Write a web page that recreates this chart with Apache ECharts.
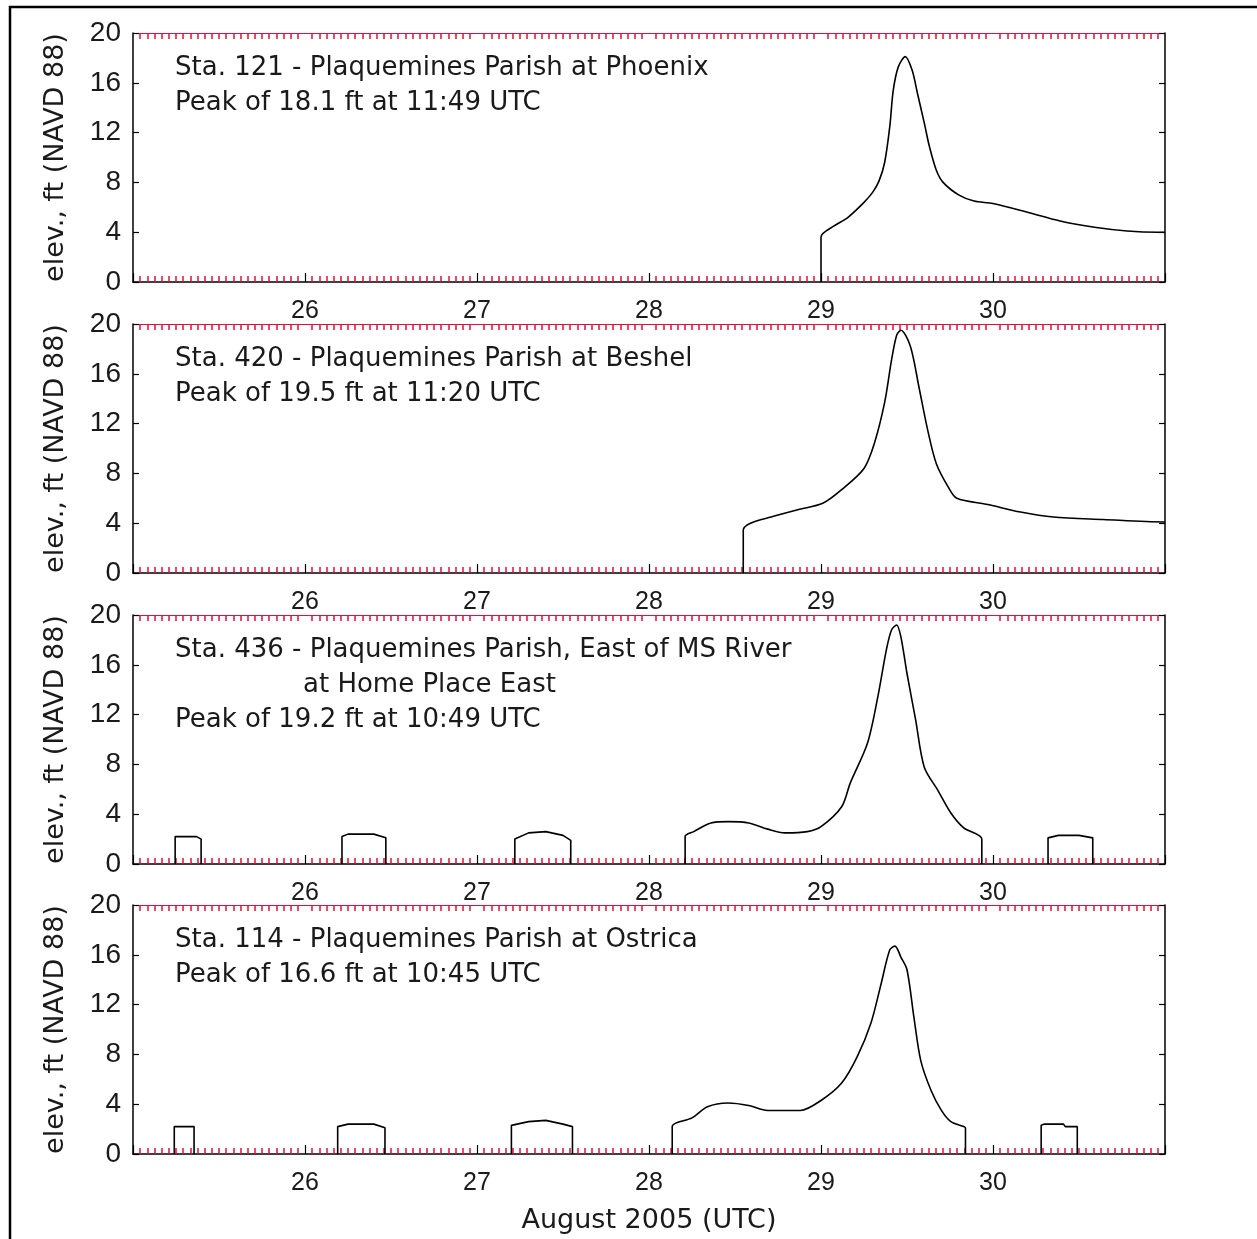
<!DOCTYPE html>
<html>
<head>
<meta charset="utf-8">
<script src="https://cdn.jsdelivr.net/npm/echarts@6/dist/echarts.min.js"></script>
<style>
html,body{margin:0;padding:0;background:#fff;}
#chart{width:1257px;height:1239px;}
</style>
</head>
<body>
<div id="chart"></div>
<script>
// ---- data ----
const xTickLabels = [26, 27, 28, 29, 30];
const yTicks = [0, 4, 8, 12, 16, 20];

const sta121Text = ['Sta. 121 - Plaquemines Parish at Phoenix', 'Peak of 18.1 ft at 11:49 UTC'];
const sta420Text = ['Sta. 420 - Plaquemines Parish at Beshel', 'Peak of 19.5 ft at 11:20 UTC'];
const sta436Text = ['Sta. 436 - Plaquemines Parish, East of MS River', 'at Home Place East', 'Peak of 19.2 ft at 10:49 UTC'];
const sta114Text = ['Sta. 114 - Plaquemines Parish at Ostrica', 'Peak of 16.6 ft at 10:45 UTC'];

// [day of August 2005 (UTC), elevation ft]
const sta121 = [
  [[29.0,0],[29.0,3.6],[29.076,4.5],[29.157,5.2],[29.25,6.4],[29.30,7.2],[29.337,8.1],[29.37,9.6],[29.40,12.5],[29.42,15.4],[29.45,17.3],[29.49,18.1],[29.53,17.0],[29.56,15.2],[29.60,12.8],[29.63,10.9],[29.67,9.0],[29.71,8.0],[29.80,7.0],[29.89,6.5],[30.0,6.3],[30.20,5.6],[30.39,4.9],[30.59,4.4],[30.78,4.1],[30.96,4.0],[31.0,4.0]]
];
const sta420 = [
  [[28.548,0],[28.548,3.45],[28.59,4.0],[28.71,4.5],[28.87,5.1],[29.01,5.6],[29.12,6.7],[29.25,8.4],[29.31,10.4],[29.37,13.7],[29.41,17.1],[29.44,19.1],[29.465,19.5],[29.52,18.2],[29.57,14.9],[29.62,11.5],[29.67,8.8],[29.74,6.9],[29.79,6.0],[29.97,5.5],[30.16,4.9],[30.35,4.5],[30.64,4.3],[30.99,4.1],[31.0,4.1]]
];
const sta436 = [
  [[25.245,0],[25.245,2.2],[25.37,2.2],[25.396,2.0],[25.396,0]],
  [[26.215,0],[26.215,2.2],[26.25,2.4],[26.40,2.4],[26.47,2.1],[26.47,0]],
  [[27.22,0],[27.22,2.0],[27.30,2.5],[27.40,2.6],[27.50,2.3],[27.545,1.9],[27.545,0]],
  [[28.21,0],[28.21,2.2],[28.26,2.6],[28.36,3.3],[28.46,3.4],[28.58,3.3],[28.69,2.8],[28.79,2.5],[28.92,2.6],[29.0,3.0],[29.12,4.6],[29.17,6.5],[29.27,9.7],[29.33,13.4],[29.38,17.2],[29.41,18.8],[29.44,19.2],[29.465,18.2],[29.50,15.3],[29.55,11.6],[29.60,7.8],[29.68,5.9],[29.755,4.1],[29.83,2.9],[29.935,2.0],[29.935,0]],
  [[30.32,0],[30.32,2.1],[30.38,2.3],[30.50,2.3],[30.58,2.1],[30.58,0]]
];
const sta114 = [
  [[25.24,0],[25.24,2.2],[25.355,2.2],[25.355,0]],
  [[26.19,0],[26.19,2.2],[26.25,2.4],[26.40,2.4],[26.465,2.1],[26.465,0]],
  [[27.20,0],[27.20,2.3],[27.30,2.6],[27.40,2.7],[27.50,2.4],[27.555,2.2],[27.555,0]],
  [[28.135,0],[28.135,2.2],[28.25,2.9],[28.34,3.8],[28.46,4.1],[28.58,3.9],[28.69,3.5],[28.88,3.5],[29.0,4.3],[29.12,5.7],[29.21,7.8],[29.29,10.5],[29.35,13.7],[29.40,16.4],[29.43,16.7],[29.465,15.8],[29.50,14.8],[29.54,11.0],[29.58,7.5],[29.64,5.1],[29.70,3.5],[29.755,2.6],[29.83,2.2],[29.84,2.1],[29.84,0]],
  [[30.28,0],[30.28,2.3],[30.30,2.4],[30.41,2.4],[30.42,2.2],[30.49,2.2],[30.49,0]]
];

const stations = [sta121, sta420, sta436, sta114];
const texts = [sta121Text, sta420Text, sta436Text, sta114Text];

// ---- layout ----
const FONT = 'Liberation Sans, Arial, sans-serif';
const TFONT = 'DejaVu Sans, sans-serif';
const gridTops = [33, 324, 615, 905];
const gridH = 249;
const plotLeft = 133, plotRightGap = 92;
const textIndent = {'2-1': 303};
const RED = '#e0103a';
const INK = '#1a1a1a';

const grids = [], xAxes = [], yAxes = [], series = [], graphics = [];

gridTops.forEach((top, i) => {
  grids.push({left: plotLeft, right: plotRightGap, top: top, height: gridH, outerBoundsMode: 'none', containLabel: false});
  const last = i === gridTops.length - 1;
  xAxes.push({
    type: 'value', gridIndex: i, position: 'bottom', min: 25, max: 31, interval: 1,
    axisLine: {show: true, onZero: false, lineStyle: {color: '#000', width: 1.5}},
    axisTick: {show: true, inside: true, length: 9, lineStyle: {color: '#000', width: 1.2}},
    minorTick: {show: true, splitNumber: 24, length: 6, lineStyle: {color: RED, width: 1.5}},
    splitLine: {show: false}, minorSplitLine: {show: false},
    axisLabel: {
      show: true, margin: 17, fontSize: 25, color: INK, fontFamily: FONT,
      showMinLabel: false, showMaxLabel: false,
      formatter: v => (xTickLabels.indexOf(v) >= 0 ? String(v) : '')
    },
    name: last ? 'August 2005 (UTC)' : '',
    nameLocation: 'middle', nameGap: 53,
    nameTextStyle: {fontSize: 27, color: INK, fontFamily: TFONT}
  });
  xAxes.push({
    type: 'value', gridIndex: i, position: 'top', min: 25, max: 31, interval: 1,
    axisLine: {show: true, onZero: false, lineStyle: {color: RED, width: 1.2}},
    axisTick: {show: false, inside: true, length: 6},
    minorTick: {show: true, splitNumber: 24, length: 6, lineStyle: {color: RED, width: 1.5}},
    splitLine: {show: false}, minorSplitLine: {show: false},
    axisLabel: {show: false}
  });
  yAxes.push({
    type: 'value', gridIndex: i, position: 'left', min: 0, max: 20, interval: 4,
    axisLine: {show: true, lineStyle: {color: '#000', width: 1.5}},
    axisTick: {show: true, inside: true, length: 6, lineStyle: {color: '#000', width: 1.2}},
    splitLine: {show: false},
    axisLabel: {show: true, margin: 12, fontSize: 28, color: INK, fontFamily: FONT,
      formatter: v => (yTicks.indexOf(v) >= 0 ? String(v) : '')},
    name: 'elev., ft (NAVD 88)', nameLocation: 'middle', nameGap: 64, nameRotate: 90,
    nameTextStyle: {fontSize: 27, color: INK, fontFamily: TFONT}
  });
  yAxes.push({
    type: 'value', gridIndex: i, position: 'right', min: 0, max: 20, interval: 4,
    axisLine: {show: true, lineStyle: {color: '#000', width: 1.5}},
    axisTick: {show: true, inside: true, length: 6, lineStyle: {color: '#000', width: 1.2}},
    splitLine: {show: false},
    axisLabel: {show: false}
  });

  stations[i].forEach(seg => {
    series.push({
      type: 'line', xAxisIndex: 2 * i, yAxisIndex: 2 * i,
      data: seg, showSymbol: false, symbol: 'none', silent: true,
      smooth: seg.length > 8 ? 0.3 : false,
      lineStyle: {color: '#000', width: 1.6}, animation: false
    });
  });

  texts[i].forEach((t, k) => {
    const key = i + '-' + k;
    graphics.push({
      type: 'text', left: textIndent[key] || 175, top: top + 22 + k * 35,
      style: {text: t, font: '26px ' + TFONT, fill: INK}
    });
  });
});

graphics.push({
  type: 'rect', shape: {x: 10, y: 7, width: 1300, height: 1300},
  style: {fill: 'none', stroke: '#000', lineWidth: 2.5}, z: 100
});

const chart = echarts.init(document.getElementById('chart'), null, {renderer: 'canvas'});
chart.setOption({
  animation: false,
  backgroundColor: '#fff',
  grid: grids, xAxis: xAxes, yAxis: yAxes, series: series, graphic: graphics
});
</script>
</body>
</html>
